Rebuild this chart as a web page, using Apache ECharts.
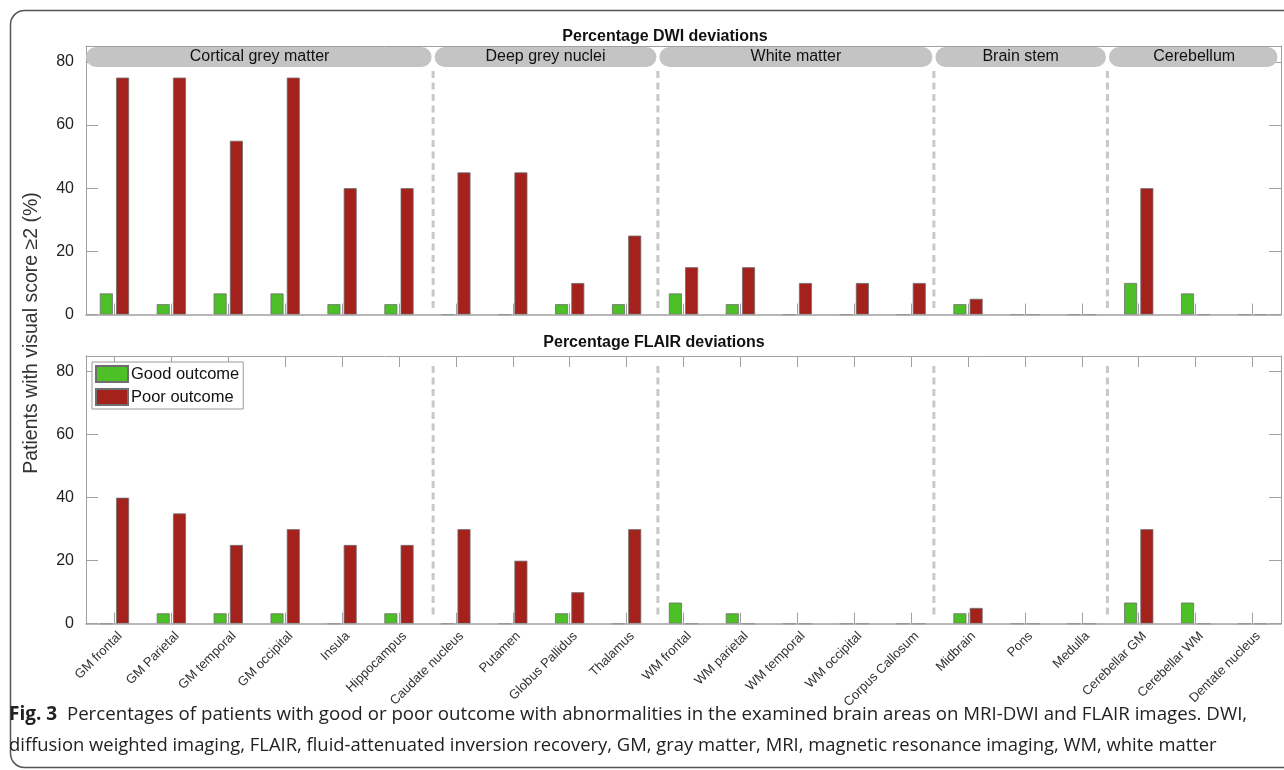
<!DOCTYPE html>
<html>
<head>
<meta charset="utf-8">
<script src="https://cdn.jsdelivr.net/npm/echarts@6/dist/echarts.min.js"></script>
<style>
  html, body { margin: 0; padding: 0; background: #fff; }
  #chart { width: 1284px; height: 770px; }
</style>
</head>
<body>
<div id="chart"></div>
<script>
// ---------- data ----------
const categories = ['GM frontal', 'GM Parietal', 'GM temporal', 'GM occipital', 'Insula', 'Hippocampus',
  'Caudate nucleus', 'Putamen', 'Globus Pallidus', 'Thalamus',
  'WM frontal', 'WM parietal', 'WM temporal', 'WM occipital', 'Corpus Callosum',
  'Midbrain', 'Pons', 'Medulla',
  'Cerebellar GM', 'Cerebellar WM', 'Dentate nucleus'];

const dwiGood   = [6.7, 3.3, 6.7, 6.7, 3.3, 3.3, 0, 0, 3.3, 3.3, 6.7, 3.3, 0, 0, 0, 3.3, 0, 0, 10, 6.7, 0];
const dwiPoor   = [75, 75, 55, 75, 40, 40, 45, 45, 10, 25, 15, 15, 10, 10, 10, 5, 0, 0, 40, 0, 0];
const flairGood = [0, 3.3, 3.3, 3.3, 0, 3.3, 0, 0, 3.3, 0, 6.7, 3.3, 0, 0, 0, 3.3, 0, 0, 6.7, 6.7, 0];
const flairPoor = [40, 35, 25, 30, 25, 25, 30, 20, 10, 30, 0, 0, 0, 0, 0, 5, 0, 0, 30, 0, 0];

const groupNames = ['Cortical grey matter', 'Deep grey nuclei', 'White matter', 'Brain stem', 'Cerebellum'];
const groupEdges = [-0.5, 5.6, 9.55, 14.4, 17.45, 20.5];   // in category units

const yTicks = [0, 20, 40, 60, 80];
const seriesNames = ['Good outcome', 'Poor outcome'];
const panelTitles = ['Percentage DWI deviations', 'Percentage FLAIR deviations'];
const yAxisTitle = 'Patients with visual score \u22652 (%)';
const captionBold = 'Fig. 3';
const captionLine1 = 'Percentages of patients with good or poor outcome with abnormalities in the examined brain areas on MRI-DWI and FLAIR images. DWI,';
const captionLine2 = 'diffusion weighted imaging, FLAIR, fluid-attenuated inversion recovery, GM, gray matter, MRI, magnetic resonance imaging, WM, white matter';

// ---------- style ----------
const Y_MIN = 0, Y_MAX = 85, Y_INT = 20;
const GREEN = '#4dbf27', RED = '#a5221c';
const AX = '#a0a0a0';
const FONT = 'Liberation Sans, Arial, sans-serif';

const groupData = groupNames.map((n, i) => [groupEdges[i], groupEdges[i + 1], i]);

function makeRender(showBand) {
  return function (params, api) {
    const x0 = api.coord([api.value(0), 0])[0];
    const x1 = api.coord([api.value(1), 0])[0];
    const yTop = api.coord([0, Y_MAX])[1];
    const y0 = api.coord([0, 0])[1];
    const idx = api.value(2);
    const children = [];
    if (showBand) {
      children.push({
        type: 'rect',
        shape: { x: x0 + (idx === 0 ? 0 : 1.5), y: yTop + 1, width: x1 - x0 - (idx === 0 ? 1.5 : 3) - (idx === groupNames.length - 1 ? 2 : 0), height: 20, r: 10 },
        style: { fill: '#c4c4c4' }
      });
      children.push({
        type: 'text',
        style: { text: groupNames[idx], x: (x0 + x1) / 2, y: yTop + 11, align: 'center', verticalAlign: 'middle',
                 font: '16px ' + FONT, fill: '#111' }
      });
    }
    if (idx < groupNames.length - 1) {
      children.push({
        type: 'line',
        shape: { x1: x1, y1: yTop + (showBand ? 25 : 10), x2: x1, y2: y0 - (showBand ? 3 : 6) },
        style: { stroke: '#c8c8c8', lineWidth: 3, lineDash: [7, 4.5] }
      });
    }
    return { type: 'group', children: children };
  };
}

const grids = [
  { left: 86, right: 3, top: 46, height: 268.6, outerBoundsMode: 'none', containLabel: false },
  { left: 86, right: 3, top: 356, height: 267.7, outerBoundsMode: 'none', containLabel: false }
];

const xAxes = [], yAxes = [];
[0, 1].forEach(g => {
  xAxes.push({
    type: 'category', gridIndex: g, data: categories, position: 'bottom', z: 4,
    axisLine: { show: true, onZero: false, lineStyle: { color: AX, width: 1.5 } },
    axisTick: { show: true, inside: true, alignWithLabel: true, interval: 0, length: 11, lineStyle: { color: AX } },
    axisLabel: g === 1 ? { show: true, rotate: 45, fontSize: 13, color: '#333', fontFamily: FONT, margin: 16, interval: 0,
                           padding: [0, -8, 0, 0] } : { show: false },
    splitLine: { show: false }
  });
  xAxes.push({
    type: 'category', gridIndex: g, data: categories, position: 'top',
    axisLine: { show: true, onZero: false, lineStyle: { color: AX, width: 1 } },
    axisTick: { show: true, inside: true, alignWithLabel: true, interval: 0, length: 11, lineStyle: { color: AX } },
    axisLabel: { show: false }, splitLine: { show: false }
  });
  xAxes.push({
    type: 'value', gridIndex: g, min: -0.5, max: 20.5, show: false,
    axisLine: { onZero: false }
  });
  const yFmt = v => (yTicks.indexOf(v) >= 0 ? String(v) : '');
  yAxes.push({
    type: 'value', gridIndex: g, min: Y_MIN, max: Y_MAX, interval: Y_INT, position: 'left',
    axisLine: { show: true, onZero: false, lineStyle: { color: AX, width: 1 } },
    axisTick: { show: true, inside: true, length: 12, lineStyle: { color: AX } },
    axisLabel: { show: true, fontSize: 16, color: '#222', fontFamily: FONT, margin: 12, formatter: yFmt, showMaxLabel: false },
    splitLine: { show: false }
  });
  yAxes.push({
    type: 'value', gridIndex: g, min: Y_MIN, max: Y_MAX, interval: Y_INT, position: 'right',
    axisLine: { show: true, onZero: false, lineStyle: { color: AX, width: 1 } },
    axisTick: { show: true, inside: true, length: 12, lineStyle: { color: AX } },
    axisLabel: { show: false }, splitLine: { show: false }
  });
});

function barSeries(name, data, color, g) {
  return {
    type: 'bar', name: name, data: data,
    xAxisIndex: g * 3, yAxisIndex: g * 2,
    barWidth: 13, barGap: '25%',
    itemStyle: { color: color, borderColor: '#6e6e6e', borderWidth: 0.8 },
    emphasis: { disabled: true }, animation: false
  };
}

const option = {
  animation: false,
  backgroundColor: '#fff',
  title: [
    { text: panelTitles[0], left: 660, top: 24, textAlign: 'center',
      textStyle: { fontSize: 16, fontWeight: 'bold', color: '#111', fontFamily: FONT } },
    { text: panelTitles[1], left: 649, top: 330, textAlign: 'center',
      textStyle: { fontSize: 16, fontWeight: 'bold', color: '#111', fontFamily: FONT } }
  ],
  legend: {
    data: seriesNames, orient: 'vertical', left: 92, top: 362,
    borderColor: '#999', borderWidth: 1, borderRadius: 0, backgroundColor: '#fff',
    padding: [3, 4, 3, 3], itemGap: 5, itemWidth: 32, itemHeight: 16, icon: 'rect',
    textStyle: { fontSize: 16.5, color: '#111', fontFamily: FONT, padding: [0, 0, 0, -2] },
    selectedMode: false
  },
  grid: grids,
  xAxis: xAxes,
  yAxis: yAxes,
  series: [
    barSeries(seriesNames[0], dwiGood, GREEN, 0),
    barSeries(seriesNames[1], dwiPoor, RED, 0),
    barSeries(seriesNames[0], flairGood, GREEN, 1),
    barSeries(seriesNames[1], flairPoor, RED, 1),
    { type: 'custom', xAxisIndex: 2, yAxisIndex: 0, data: groupData, renderItem: makeRender(true), silent: true, z: 5, clip: false },
    { type: 'custom', xAxisIndex: 5, yAxisIndex: 2, data: groupData, renderItem: makeRender(false), silent: true, z: 1, clip: false }
  ],
  graphic: [
    { type: 'rect', shape: { x: 10.5, y: 10.5, width: 1320, height: 757, r: 14 },
      style: { fill: 'none', stroke: '#555', lineWidth: 1.5 }, silent: true },
    { type: 'text', x: 32, y: 333, rotation: Math.PI / 2,
      style: { text: yAxisTitle, font: '19.5px ' + FONT, fill: '#333', align: 'center', verticalAlign: 'middle' } },
    { type: 'text', x: 9, y: 715,
      style: { rich: { b: { fontWeight: 'bold', fontSize: 19, fontFamily: 'Open Sans', fill: '#222' },
                       r: { fontSize: 18.7, fontFamily: 'Open Sans', fill: '#222' } },
               text: '{b|' + captionBold + '}{r|  ' + captionLine1 + '}', verticalAlign: 'middle' } },
    { type: 'text', x: 9, y: 746,
      style: { text: captionLine2, font: '18.4px Open Sans', fill: '#222', verticalAlign: 'middle' } }
  ]
};

const chart = echarts.init(document.getElementById('chart'), null, { renderer: 'canvas' });
chart.setOption(option);
</script>
</body>
</html>
